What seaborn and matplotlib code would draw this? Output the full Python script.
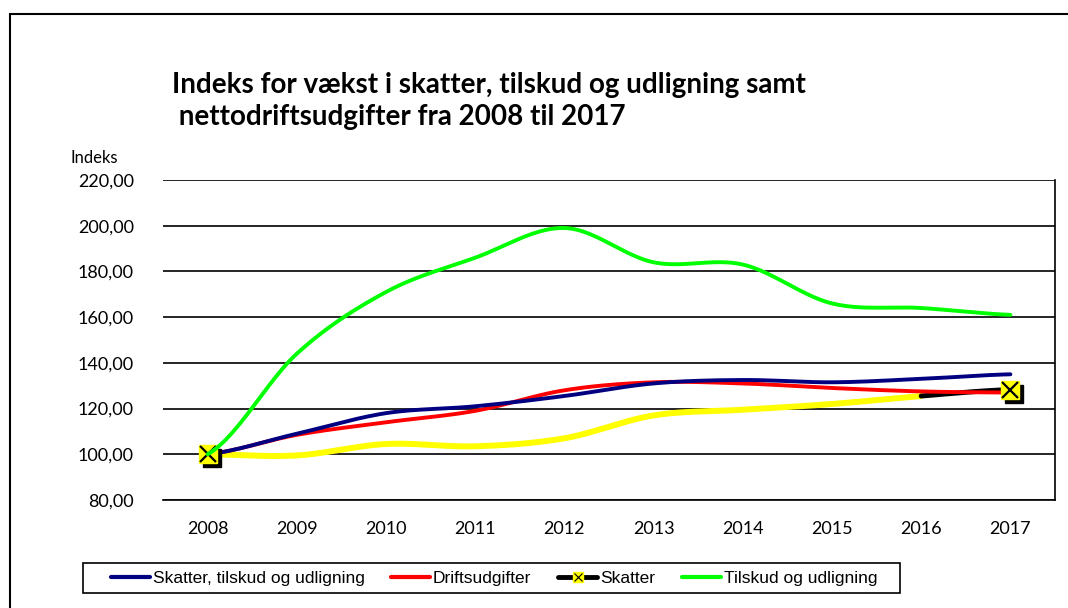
import matplotlib
matplotlib.use("Agg")
import matplotlib.pyplot as plt
import matplotlib.transforms as mtransforms
from matplotlib.lines import Line2D
from matplotlib.patches import Rectangle
import numpy as np
import seaborn as sns

aar = ["2008", "2009", "2010", "2011", "2012", "2013", "2014", "2015", "2016", "2017"]
skatter_tilskud = [100, 109, 118, 121, 125.5, 131, 132.5, 131.5, 133, 135]
driftsudgifter = [100, 108.5, 114, 119, 128, 131.5, 131, 129, 127.5, 127]
skatter = [100, 99.5, 104.5, 103.5, 107, 117, 119.5, 122, 125.5, 128.3]
tilskud = [100, 144, 171, 186, 199, 184, 183, 166, 164, 161]
y_ticks = [80, 100, 120, 140, 160, 180, 200, 220]
y_labels = ["80,00", "100,00", "120,00", "140,00", "160,00", "180,00", "200,00", "220,00"]

titel = "Indeks for vækst i skatter, tilskud og udligning samt\n nettodriftsudgifter fra 2008 til 2017"


def glat(vaerdier, n=25):
    # catmull-rom kurve gennem punkterne (som Excel "udjævnet linje")
    p = np.r_[vaerdier[0], vaerdier, vaerdier[-1]].astype(float)
    xs, ys = [], []
    for i in range(len(vaerdier) - 1):
        p0, p1, p2, p3 = p[i], p[i + 1], p[i + 2], p[i + 3]
        t = np.linspace(0, 1, n, endpoint=False)
        y = 0.5 * ((2 * p1) + (-p0 + p2) * t + (2 * p0 - 5 * p1 + 4 * p2 - p3) * t ** 2
                   + (-p0 + 3 * p1 - 3 * p2 + p3) * t ** 3)
        xs.extend(i + t)
        ys.extend(y)
    xs.append(len(vaerdier) - 1)
    ys.append(vaerdier[-1])
    return np.array(xs), np.array(ys)


sns.set_style("white")
plt.rcParams["font.family"] = ["Lato", "DejaVu Sans"]
plt.rcParams["text.color"] = "black"

fig = plt.figure(figsize=(10.68, 6.08), dpi=100)
ax = fig.add_axes([163 / 1068, 1 - 500 / 608, 892 / 1068, 320 / 608])

# skatter: gul til 2016, sort sidste stykke
xs, ys = glat(skatter)
m = xs <= 8
sns.lineplot(x=xs[m], y=ys[m], ax=ax, color="#ffff00", lw=4.3, sort=False, zorder=3)
sns.lineplot(x=xs[xs >= 8], y=ys[xs >= 8], ax=ax, color="black", lw=3.6, sort=False, zorder=3)

xs, ys = glat(driftsudgifter)
sns.lineplot(x=xs, y=ys, ax=ax, color="#ff0000", lw=2.8, sort=False, zorder=4)
xs, ys = glat(skatter_tilskud)
sns.lineplot(x=xs, y=ys, ax=ax, color="#000080", lw=2.8, sort=False, zorder=4)

# markører med skygge
mx = [0, len(aar) - 1]
my = [skatter[0], skatter[-1]]
skygge = mtransforms.offset_copy(ax.transData, fig=fig, x=4, y=-4, units="dots")
ax.plot(mx, my, ls="none", marker="s", ms=12.5, color="black", transform=skygge, zorder=5)
ax.plot(mx, my, ls="none", marker="s", ms=12.5, mfc="#ffff00", mec="#ffff00", zorder=6)
ax.plot(mx, my, ls="none", marker="x", ms=11, mec="black", mew=1.6, zorder=7)

xs, ys = glat(tilskud)
sns.lineplot(x=xs, y=ys, ax=ax, color="#00ff00", lw=2.8, sort=False, zorder=8)

ax.set_xlim(-0.5, len(aar) - 0.5)
ax.set_ylim(80, 220)
ax.set_yticks(y_ticks)
ax.set_yticklabels(y_labels)
ax.set_xticks(range(len(aar)))
ax.set_xticklabels(aar)
ax.set_xticks(np.arange(-0.5, len(aar), 1), minor=True)
ax.tick_params(axis="x", which="major", length=0, pad=15, labelsize=13, colors="black")
ax.tick_params(axis="x", which="minor", length=6, width=1, color="black", direction="out")
ax.tick_params(axis="y", length=0, pad=21, labelsize=13, colors="black")
ax.grid(axis="y", color="black", lw=1.2)
ax.grid(axis="x", visible=False)
ax.set_xlabel("")
ax.set_ylabel("")
for s in ["left", "top"]:
    ax.spines[s].set_visible(False)
for s in ["right", "bottom"]:
    ax.spines[s].set_visible(True)
    ax.spines[s].set_color("black")
    ax.spines[s].set_linewidth(1.2)

fig.text(70 / 1068, 1 - 158 / 608, "Indeks", fontsize=12, va="center", ha="left", color="black")
fig.text(172 / 1068, 1 - 101 / 608, titel, fontsize=20, fontweight="bold", color="black",
         va="center", ha="left", linespacing=1.3)

# ydre ramme
fig.patches.append(Rectangle((10 / 1068, -0.2), 2, 1.2 - 14 / 608, transform=fig.transFigure,
                             fill=False, edgecolor="black", lw=1.5))
# ramme om forklaring
fig.patches.append(Rectangle((83 / 1068, 1 - 593 / 608), 817 / 1068, 30 / 608,
                             transform=fig.transFigure, fill=False, edgecolor="black", lw=1.2))

handles = [
    Line2D([], [], color="#000080", lw=3),
    Line2D([], [], color="#ff0000", lw=3),
    (Line2D([], [], color="black", lw=3.5),
     Line2D([], [], ls="none", marker="s", ms=6.5, mfc="#ffff00", mec="#ffff00"),
     Line2D([], [], ls="none", marker="x", ms=5.5, mec="black", mew=0.8)),
    Line2D([], [], color="#00ff00", lw=3),
]
labels = ["Skatter, tilskud og udligning", "Driftsudgifter", "Skatter", "Tilskud og udligning"]
leg = fig.legend(handles, labels, loc="center", bbox_to_anchor=(494 / 1068, 1 - 578 / 608),
                 ncol=4, frameon=False, handlelength=2.25, handletextpad=0.15,
                 columnspacing=1.55, borderpad=0.2, labelcolor="black",
                 prop={"family": ["Liberation Sans", "DejaVu Sans"], "size": 12.5})

fig.savefig("out.png", dpi=100)
